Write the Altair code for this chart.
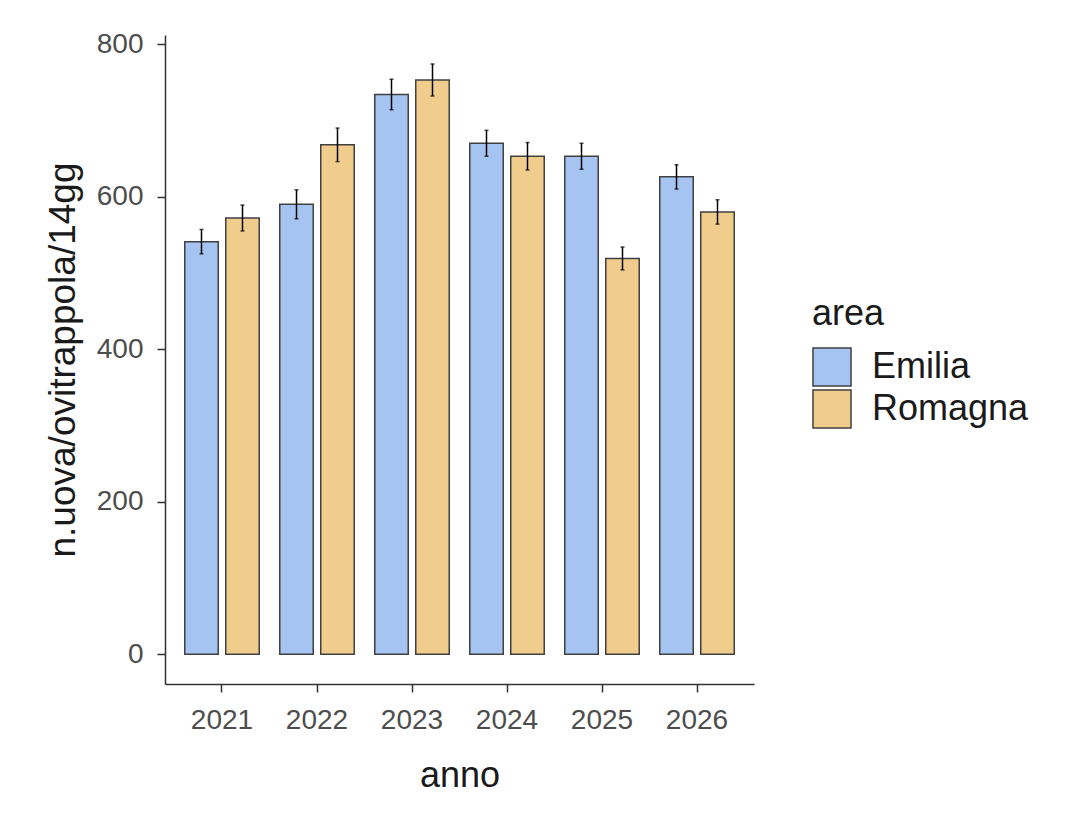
import altair as alt
import pandas as pd

years = ["2021", "2022", "2023", "2024", "2025", "2026"]
areas = ["Emilia", "Romagna"]
emilia_vals = [541, 590, 734, 670, 653, 626]
romagna_vals = [572, 668, 753, 653, 519, 580]
emilia_err = [16, 19, 20, 17, 17, 16]
romagna_err = [17, 22, 21, 18, 15, 16]
colors = ["#A6C4F2", "#F0CD8C"]

rows = []
for i, y in enumerate(years):
    rows.append({"anno": y, "area": "Emilia", "v": emilia_vals[i], "e": emilia_err[i]})
    rows.append({"anno": y, "area": "Romagna", "v": romagna_vals[i], "e": romagna_err[i]})
df = pd.DataFrame(rows)
df["lo"] = df["v"] - df["e"]
df["hi"] = df["v"] + df["e"]

FONT = "Liberation Sans"

xenc = alt.X("anno:N", sort=years, title="anno",
             scale=alt.Scale(paddingInner=0.216, paddingOuter=0.208),
             axis=alt.Axis(labelAngle=0, labelFontSize=28, labelColor="#4D4D4D",
                           titleFontSize=36, titleColor="#1A1A1A", titleFontWeight="normal",
                           tickSize=8, tickColor="#333333", domainColor="#333333",
                           domainWidth=1.5, tickWidth=1.5, labelPadding=14, titlePadding=24,
                           labelFont=FONT, titleFont=FONT, grid=False))
xoff = alt.XOffset("area:N", sort=areas, scale=alt.Scale(paddingInner=0.183, paddingOuter=0))
yscale = alt.Scale(domain=[-39, 812], nice=False, zero=False)

bars = alt.Chart(df).mark_bar(stroke="#404040", strokeWidth=1.5).encode(
    x=xenc,
    xOffset=xoff,
    y=alt.Y("v:Q", scale=yscale, title="n.uova/ovitrappola/14gg",
            axis=alt.Axis(values=[0, 200, 400, 600, 800], labelFontSize=28, labelColor="#4D4D4D",
                          titleFontSize=37, titleColor="#1A1A1A", titleFontWeight="normal",
                          tickSize=8, tickColor="#333333", domainColor="#333333",
                          domainWidth=1.5, tickWidth=1.5, labelPadding=14, titlePadding=14,
                          labelFont=FONT, titleFont=FONT, grid=False)),
    y2=alt.datum(0),
    color=alt.Color("area:N", sort=areas, title="area",
                    scale=alt.Scale(domain=areas, range=colors),
                    legend=alt.Legend(orient="none", legendX=647, legendY=262,
                                      titleFontSize=36, labelFontSize=36,
                                      titleFont=FONT, labelFont=FONT,
                                      titleColor="#1A1A1A", labelColor="#1A1A1A",
                                      titleFontWeight="normal",
                                      symbolType="square", symbolSize=1444,
                                      symbolStrokeColor="#404040", symbolStrokeWidth=1.5,
                                      symbolOpacity=1, rowPadding=-3, labelOffset=20,
                                      titlePadding=14, padding=0)),
)

err = alt.Chart(df).mark_rule(color="black", strokeWidth=1.5).encode(
    x=alt.X("anno:N", sort=years),
    xOffset=alt.XOffset("area:N", sort=areas),
    y=alt.Y("lo:Q"),
    y2="hi:Q",
)
cap_hi = alt.Chart(df).mark_tick(color="black", size=4, thickness=1.5).encode(
    x=alt.X("anno:N", sort=years),
    xOffset=alt.XOffset("area:N", sort=areas),
    y=alt.Y("hi:Q"),
)
cap_lo = alt.Chart(df).mark_tick(color="black", size=4, thickness=1.5).encode(
    x=alt.X("anno:N", sort=years),
    xOffset=alt.XOffset("area:N", sort=areas),
    y=alt.Y("lo:Q"),
)

chart = alt.layer(bars, err, cap_hi, cap_lo).properties(
    width=589, height=649,
    background="white",
    autosize=alt.AutoSizeParams(type="none"),
    padding={"left": 157, "top": 27, "right": 300, "bottom": 120},
).configure_view(strokeWidth=0, stroke=None)

chart.save("out.html", embed_options={"renderer": "svg", "actions": False})
